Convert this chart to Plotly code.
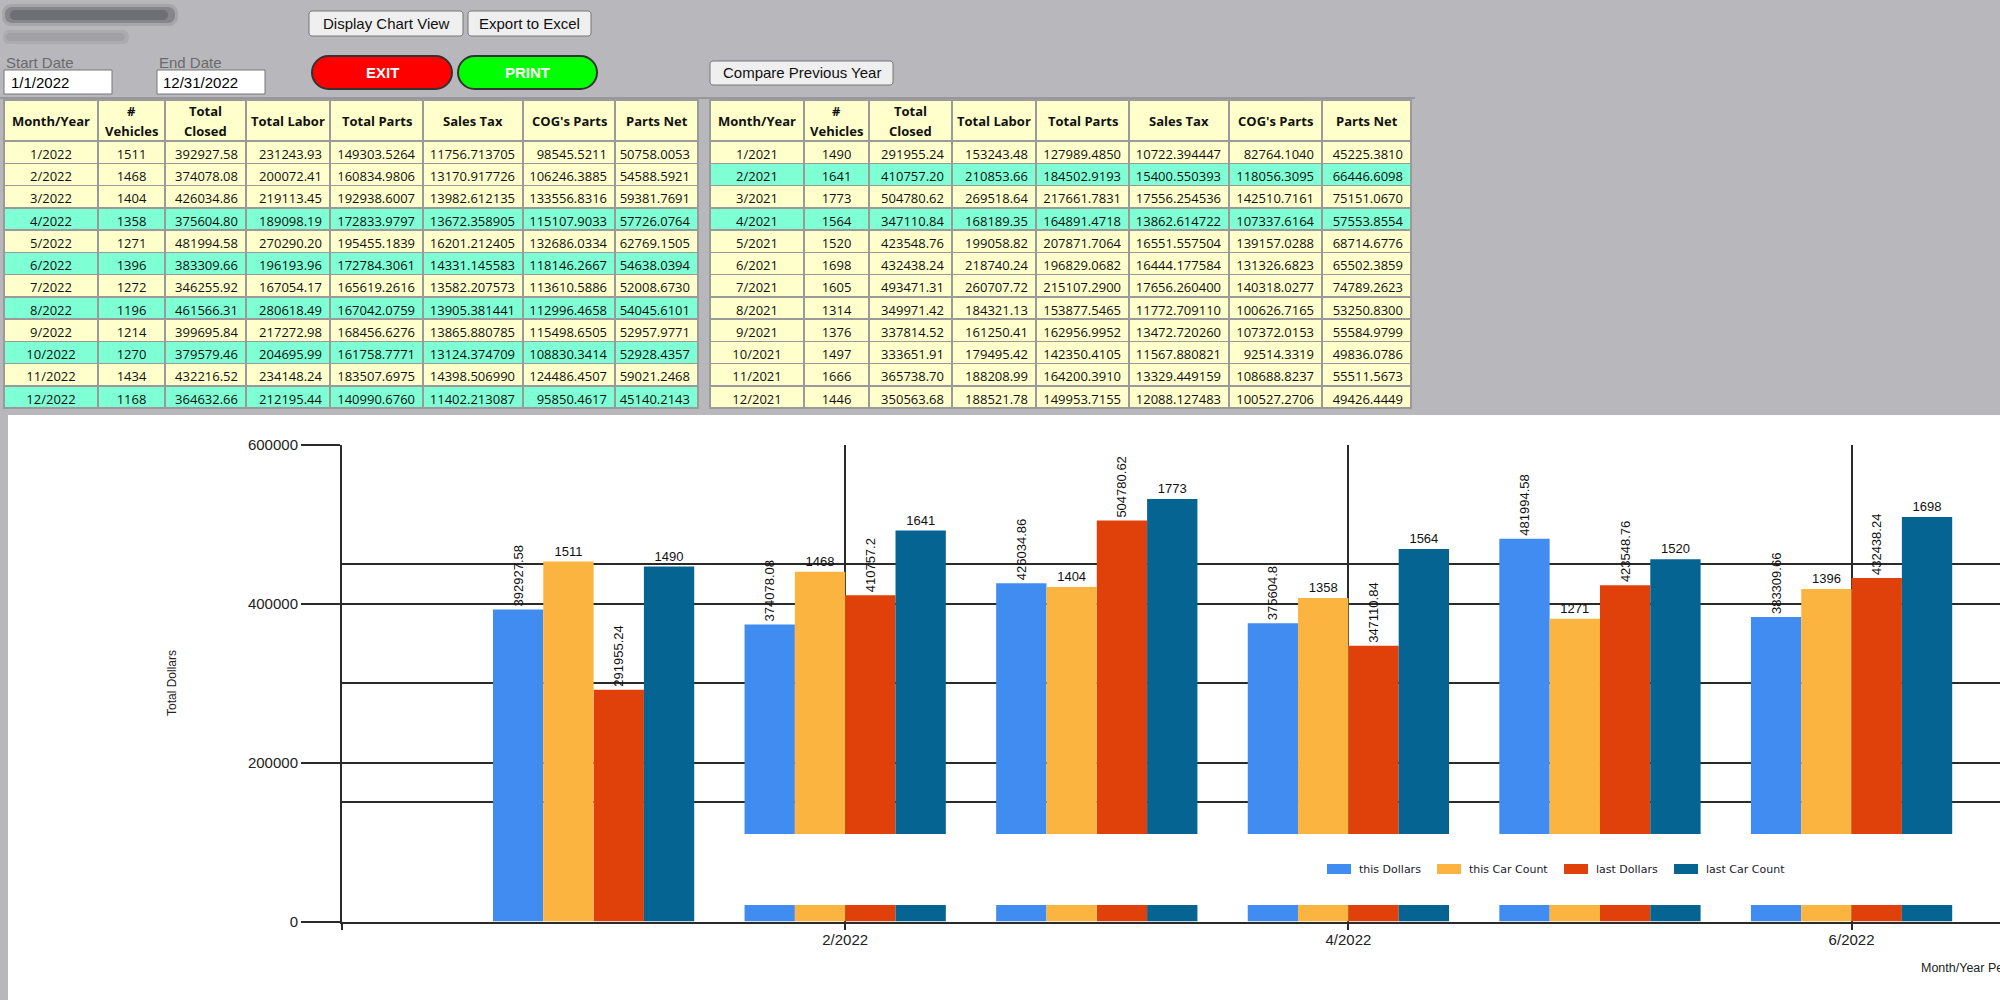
import plotly.graph_objects as go

W, H = 2000, 1000

# ---------------- data ----------------
months_2022 = ["1/2022", "2/2022", "3/2022", "4/2022", "5/2022", "6/2022",
               "7/2022", "8/2022", "9/2022", "10/2022", "11/2022", "12/2022"]
vehicles_2022 = [1511, 1468, 1404, 1358, 1271, 1396, 1272, 1196, 1214, 1270, 1434, 1168]
closed_2022 = ["392927.58", "374078.08", "426034.86", "375604.80", "481994.58", "383309.66",
               "346255.92", "461566.31", "399695.84", "379579.46", "432216.52", "364632.66"]
labor_2022 = ["231243.93", "200072.41", "219113.45", "189098.19", "270290.20", "196193.96",
              "167054.17", "280618.49", "217272.98", "204695.99", "234148.24", "212195.44"]
parts_2022 = ["149303.5264", "160834.9806", "192938.6007", "172833.9797", "195455.1839", "172784.3061",
              "165619.2616", "167042.0759", "168456.6276", "161758.7771", "183507.6975", "140990.6760"]
tax_2022 = ["11756.713705", "13170.917726", "13982.612135", "13672.358905", "16201.212405", "14331.145583",
            "13582.207573", "13905.381441", "13865.880785", "13124.374709", "14398.506990", "11402.213087"]
cog_2022 = ["98545.5211", "106246.3885", "133556.8316", "115107.9033", "132686.0334", "118146.2667",
            "113610.5886", "112996.4658", "115498.6505", "108830.3414", "124486.4507", "95850.4617"]
net_2022 = ["50758.0053", "54588.5921", "59381.7691", "57726.0764", "62769.1505", "54638.0394",
            "52008.6730", "54045.6101", "52957.9771", "52928.4357", "59021.2468", "45140.2143"]
highlight_2022 = ["4/2022", "6/2022", "8/2022", "10/2022", "12/2022"]

months_2021 = ["1/2021", "2/2021", "3/2021", "4/2021", "5/2021", "6/2021",
               "7/2021", "8/2021", "9/2021", "10/2021", "11/2021", "12/2021"]
vehicles_2021 = [1490, 1641, 1773, 1564, 1520, 1698, 1605, 1314, 1376, 1497, 1666, 1446]
closed_2021 = ["291955.24", "410757.20", "504780.62", "347110.84", "423548.76", "432438.24",
               "493471.31", "349971.42", "337814.52", "333651.91", "365738.70", "350563.68"]
labor_2021 = ["153243.48", "210853.66", "269518.64", "168189.35", "199058.82", "218740.24",
              "260707.72", "184321.13", "161250.41", "179495.42", "188208.99", "188521.78"]
parts_2021 = ["127989.4850", "184502.9193", "217661.7831", "164891.4718", "207871.7064", "196829.0682",
              "215107.2900", "153877.5465", "162956.9952", "142350.4105", "164200.3910", "149953.7155"]
tax_2021 = ["10722.394447", "15400.550393", "17556.254536", "13862.614722", "16551.557504", "16444.177584",
            "17656.260400", "11772.709110", "13472.720260", "11567.880821", "13329.449159", "12088.127483"]
cog_2021 = ["82764.1040", "118056.3095", "142510.7161", "107337.6164", "139157.0288", "131326.6823",
            "140318.0277", "100626.7165", "107372.0153", "92514.3319", "108688.8237", "100527.2706"]
net_2021 = ["45225.3810", "66446.6098", "75151.0670", "57553.8554", "68714.6776", "65502.3859",
            "74789.2623", "53250.8300", "55584.9799", "49836.0786", "55511.5673", "49426.4449"]
highlight_2021 = ["2/2021", "4/2021"]

table_headers = ["Month/Year", "#\nVehicles", "Total\nClosed", "Total Labor", "Total Parts",
                 "Sales Tax", "COG's Parts", "Parts Net"]

series_names = ["this Dollars", "this Car Count", "last Dollars", "last Car Count"]
series_colors = ["#418CF0", "#FCB441", "#E0400A", "#056492"]
x_tick_labels = ["", "2/2022", "4/2022", "6/2022", "8/2022", "10/2022", "12/2022"]

# ---------------- helpers ----------------
def X(p):
    return p / W


def Y(p):
    return 1 - p / H


def rounded_path(x0, y0, x1, y1, r):
    k = 0.5523 * r
    pts = [
        ("M", [(x0 + r, y0)]),
        ("L", [(x1 - r, y0)]),
        ("C", [(x1 - r + k, y0), (x1, y0 + r - k), (x1, y0 + r)]),
        ("L", [(x1, y1 - r)]),
        ("C", [(x1, y1 - r + k), (x1 - r + k, y1), (x1 - r, y1)]),
        ("L", [(x0 + r, y1)]),
        ("C", [(x0 + r - k, y1), (x0, y1 - r + k), (x0, y1 - r)]),
        ("L", [(x0, y0 + r)]),
        ("C", [(x0, y0 + r - k), (x0 + r - k, y0), (x0 + r, y0)]),
    ]
    s = ""
    for cmd, ps in pts:
        s += cmd + " ".join(f"{X(a):.6f},{Y(b):.6f}" for a, b in ps) + " "
    return s + "Z"


shapes = []
annotations = []


def add_text(text, x, y, size=15, color="#111", xanchor="center", family="Liberation Sans, Arial, sans-serif",
             bold=False, angle=0):
    t = f"<b>{text}</b>" if bold else text
    annotations.append(dict(text=t, x=X(x), y=Y(y), xref="paper", yref="paper", showarrow=False,
                            xanchor=xanchor, yanchor="middle", textangle=angle,
                            font=dict(size=size, color=color, family=family)))


def add_rounded(x0, y0, x1, y1, r, fill, line, lw=1, layer="below"):
    shapes.append(dict(type="path", path=rounded_path(x0, y0, x1, y1, r), xref="paper", yref="paper",
                       fillcolor=fill, line=dict(color=line, width=lw), layer=layer))


def add_rect(x0, y0, x1, y1, fill, line=None, lw=0, layer="below"):
    shapes.append(dict(type="rect", x0=X(x0), x1=X(x1), y0=Y(y1), y1=Y(y0), xref="paper", yref="paper",
                       fillcolor=fill, line=dict(color=line or fill, width=lw), layer=layer))


# ---------------- page chrome ----------------
BG = "#b8b8bc"
# blurred title
add_rounded(2, 4, 178, 26, 9, "rgba(110,110,116,0.25)", "rgba(0,0,0,0)", 0)
add_rounded(5, 7, 175, 23, 7, "rgba(85,85,92,0.40)", "rgba(0,0,0,0)", 0)
add_rounded(10, 10, 168, 20, 5, "rgba(70,70,78,0.35)", "rgba(0,0,0,0)", 0)
add_rounded(3, 30, 129, 44, 6, "rgba(150,150,156,0.35)", "rgba(0,0,0,0)", 0)
add_rounded(6, 33, 125, 41, 4, "rgba(140,140,146,0.35)", "rgba(0,0,0,0)", 0)

# buttons
add_rounded(309, 11, 463, 36, 3, "#efefef", "#767676", 1)
add_text("Display Chart View", 386, 23.5, 15)
add_rounded(468, 11, 591, 36, 3, "#efefef", "#767676", 1)
add_text("Export to Excel", 529.5, 23.5, 15)
add_rounded(710, 61, 893, 85, 3, "#efefef", "#767676", 1)
add_text("Compare Previous Year", 801.5, 73, 15)

# date inputs
add_text("Start Date", 4, 62, 15, "#6a6a6a", "left")
add_text("End Date", 157, 62, 15, "#6a6a6a", "left")
add_rect(4, 70, 112, 94, "#ffffff", "#767676", 1)
add_rect(157, 70, 265, 94, "#ffffff", "#767676", 1)
add_text("1/1/2022", 9, 82.5, 15, "#000", "left")
add_text("12/31/2022", 161, 82.5, 15, "#000", "left")

# EXIT / PRINT
add_rounded(312, 56, 452, 89, 16.5, "#ff0000", "#333333", 2)
add_text("EXIT", 382, 72.5, 15, "#ffffff", bold=True)
add_rounded(458, 56, 597, 89, 16.5, "#00ff00", "#333333", 2)
add_text("PRINT", 527.5, 72.5, 15, "#ffffff", bold=True)

# separator
shapes.append(dict(type="line", x0=0, x1=X(1415), y0=Y(98), y1=Y(98), xref="paper", yref="paper",
                   line=dict(color="#8e8e92", width=1.5), layer="below"))

# chart white panel
add_rect(8, 415, 2000, 1000, "#ffffff")

# ---------------- tables ----------------
CREAM = "#FFFFCC"
GREEN = "#7FFFD4"
TFONT = "Segoe UI, Open Sans, Noto Sans, sans-serif"
HEADER_H = 41
ROW_H = 22.25
TABLE_TOP = 100

fig = go.Figure()


def add_table(x0, x1, widths, months, cols, highlight):
    row_colors = [GREEN if m in highlight else CREAM for m in months]
    bottom = TABLE_TOP + HEADER_H + ROW_H * len(months) + 2
    fig.add_trace(go.Table(
        domain=dict(x=[X(x0), X(x1)], y=[Y(bottom), Y(TABLE_TOP)]),
        columnwidth=widths,
        header=dict(values=[""] * len(widths), height=HEADER_H,
                    fill=dict(color=CREAM), line=dict(color="#9a9a9a", width=1.5)),
        cells=dict(values=[months] + cols, height=ROW_H,
                   fill=dict(color=[row_colors] * len(widths)),
                   line=dict(color="#9a9a9a", width=1.5),
                   align=["center", "center"] + ["right"] * (len(widths) - 2),
                   font=dict(family=TFONT, size=13, color="#111")),
    ))
    total = sum(widths)
    scale = (x1 - x0) / total
    cx = x0
    for w, h in zip(widths, table_headers):
        center = cx + w * scale / 2
        parts = h.split("\n")
        if len(parts) == 1:
            add_text(parts[0], center, 120.5, 13, "#111", family=TFONT, bold=True)
        else:
            add_text(parts[0], center, 111, 13, "#111", family=TFONT, bold=True)
            add_text(parts[1], center, 130.5, 13, "#111", family=TFONT, bold=True)
        cx += w * scale


add_table(4, 698, [94, 67, 81, 84, 93, 100, 92, 83], months_2022,
          [vehicles_2022, closed_2022, labor_2022, parts_2022, tax_2022, cog_2022, net_2022],
          highlight_2022)
add_table(710, 1411, [94, 65, 83, 84, 93, 100, 93, 89], months_2021,
          [vehicles_2021, closed_2021, labor_2021, parts_2021, tax_2021, cog_2021, net_2021],
          highlight_2021)

# ---------------- chart ----------------
xpos = list(range(1, len(months_2022) + 1))
this_dollars = [float(v) for v in closed_2022]
last_dollars = [float(v) for v in closed_2021]
series = [
    (this_dollars, "y", -90),
    (vehicles_2022, "y2", 0),
    (last_dollars, "y", -90),
    (vehicles_2021, "y2", 0),
]
BW = 0.2
for i, ((vals, yax, ang), name, color) in enumerate(zip(series, series_names, series_colors)):
    fig.add_trace(go.Bar(
        x=xpos, y=vals, yaxis=yax, name=name,
        marker=dict(color=color, line=dict(width=0)),
        width=BW, offset=-2 * BW + i * BW,
        text=[str(v) for v in vals], textposition="outside", textangle=ang,
        constraintext="none",
        textfont=dict(family="Liberation Sans, Arial, sans-serif", size=13, color="#111"),
        cliponaxis=True, showlegend=False, hoverinfo="skip",
    ))

GRID = "#2a2a2a"
AXFONT = dict(family="Liberation Sans, Arial, sans-serif", size=15, color="#222")

# legend band over the bars
add_rect(720, 834, 2000, 905, "#ffffff", layer="above")
leg_sq = [1327, 1437, 1564, 1674]
for name, color, lx in zip(series_names, series_colors, leg_sq):
    shapes.append(dict(type="rect", x0=X(lx), x1=X(lx + 24), y0=Y(874), y1=Y(864), xref="paper", yref="paper",
                       fillcolor=color, line=dict(width=0), layer="above"))
    add_text(name, lx + 30, 869, 11, "#1a1a2a", "left", family="DejaVu Sans, Verdana, sans-serif")

# axis titles
add_text("Total Dollars", 172, 683, 12, "#222", angle=-90)
add_text("Month/Year Period", 1919, 968, 12.5, "#222", "left")

fig.update_layout(
    width=W, height=H, autosize=False,
    margin=dict(l=0, r=0, t=0, b=0, pad=0, autoexpand=False),
    paper_bgcolor=BG, plot_bgcolor="#ffffff",
    barmode="overlay", showlegend=False,
    shapes=shapes, annotations=annotations,
    xaxis=dict(domain=[X(342), 1.0], range=[0, 6.59], automargin=False,
               tickmode="array", tickvals=[0, 2, 4, 6, 8, 10, 12], ticktext=x_tick_labels,
               ticks="outside", ticklen=6, tickwidth=1.5, tickcolor=GRID,
               ticklabelstandoff=-3,
               showgrid=True, gridcolor=GRID, gridwidth=1.5,
               showline=True, linecolor=GRID, linewidth=2, zeroline=False,
               tickfont=AXFONT, fixedrange=True),
    yaxis=dict(domain=[Y(921.5), Y(445)], range=[0, 600000], automargin=False,
               tickmode="array", tickvals=[0, 200000, 400000, 600000], tickformat="d",
               ticks="outside", ticklen=39, tickwidth=1.5, tickcolor=GRID,
               showgrid=True, gridcolor=GRID, gridwidth=1.5,
               showline=True, linecolor=GRID, linewidth=2, zeroline=False,
               tickfont=AXFONT, fixedrange=True),
    yaxis2=dict(overlaying="y", side="right", range=[0, 2000], dtick=500, automargin=False,
                showgrid=True, gridcolor=GRID, gridwidth=1.5,
                showticklabels=False, ticks="", showline=False, zeroline=False, fixedrange=True),
)

fig.write_html("out.html", config={"displayModeBar": False, "responsive": False},
               post_script="document.body.style.margin='0';document.body.style.overflow='hidden';")
